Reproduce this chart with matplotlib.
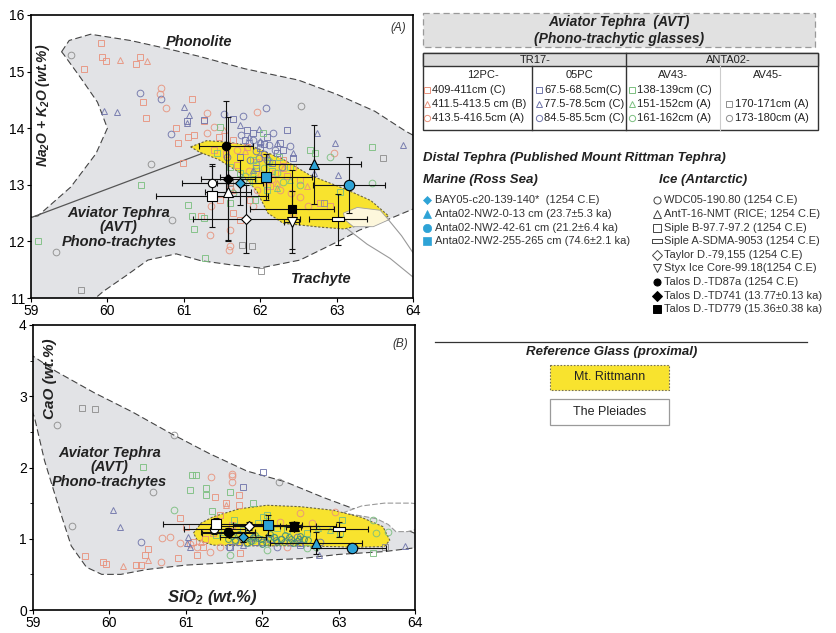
import numpy as np
import matplotlib
matplotlib.use("Agg")
import matplotlib.pyplot as plt
from matplotlib.patches import Polygon, Rectangle
from matplotlib.path import Path

plt.rcParams['font.family'] = ['Liberation Sans', 'DejaVu Sans']
plt.rcParams['mathtext.default'] = 'regular'

# ---------------- colours ----------------
C_12PC = '#e8937d'
C_05PC = '#6f74aa'
C_AV43 = '#7cbf80'
C_AV45 = '#8e8e8e'
C_AV43_DARK = '#3f8f78'
C_MARINE = '#2ea3d6'
FIELD_GREY = '#e2e3e6'
RITT_YELLOW = '#f8e32e'
PLEIADES = '#fdf7dc'

# ---------------- fields (panel A: SiO2 vs Na2O+K2O) ----------------
avt_a_x = [59.40, 59.50, 59.78, 60.30, 60.80, 61.20, 61.80, 62.50, 63.00, 63.50, 63.90, 64.05,
           64.05, 63.66, 63.30, 63.05, 62.52, 62.00, 61.65, 61.22, 60.90, 60.53, 60.25, 59.95,
           59.80, 58.95, 58.95, 59.09, 59.52, 59.85, 60.00, 59.87, 59.65, 59.43]
avt_a_y = [15.35, 15.55, 15.66, 15.55, 15.40, 15.27, 15.05, 14.85, 14.60, 14.30, 13.95, 13.84,
           12.60, 12.38, 12.20, 12.02, 11.67, 11.53, 11.58, 11.66, 11.78, 11.67, 11.40, 11.12,
           10.95, 10.95, 12.43, 12.45, 12.96, 13.55, 14.00, 14.46, 14.89, 15.30]
ritt_a_x = [61.09, 61.30, 61.60, 61.90, 62.30, 62.65, 63.14, 63.45, 63.68, 63.60, 63.10, 62.80,
            62.30, 62.10, 61.95, 61.75, 61.45, 61.20]
ritt_a_y = [13.67, 13.78, 13.75, 13.68, 13.45, 13.17, 12.91, 12.72, 12.45, 12.38, 12.22, 12.25,
            12.32, 12.50, 12.90, 13.20, 13.45, 13.58]
plei_a_x = [63.09, 63.27, 63.57, 63.68, 63.48, 63.22, 63.11]
plei_a_y = [12.50, 12.60, 12.55, 12.38, 12.26, 12.26, 12.38]
plei_line1_x = [63.14, 63.40, 63.70, 64.00]
plei_line1_y = [12.22, 11.95, 11.70, 11.37]
plei_line2_x = [63.68, 63.85, 64.00]
plei_line2_y = [12.38, 12.10, 11.80]
boundary_x = [59.00, 61.45]
boundary_y = [12.42, 13.66]

# ---------------- fields (panel B: SiO2 vs CaO) ----------------
avt_b_x = [58.95, 59.30, 59.80, 60.30, 60.80, 61.30, 61.80, 62.30, 62.80, 63.30, 63.70, 64.05,
           64.05, 63.60, 63.00, 62.50, 62.00, 61.50, 61.00, 60.50, 60.15, 59.90, 59.70, 59.50,
           59.35, 59.15, 59.02, 58.95]
avt_b_y = [3.60, 3.35, 3.05, 2.78, 2.48, 2.20, 1.95, 1.80, 1.58, 1.38, 1.22, 1.05,
           0.88, 0.82, 0.78, 0.72, 0.70, 0.66, 0.63, 0.57, 0.50, 0.50, 0.60, 0.90,
           1.40, 2.10, 2.70, 2.90]
ritt_b_x = [61.10, 61.20, 61.36, 61.70, 62.06, 62.50, 62.93, 63.30, 63.58, 63.67, 63.60, 63.20,
            62.93, 62.40, 61.90, 61.36, 61.15]
ritt_b_y = [1.08, 1.22, 1.31, 1.42, 1.47, 1.45, 1.40, 1.30, 1.17, 0.98, 0.89, 0.88,
            0.89, 0.90, 0.90, 0.91, 0.98]
plei_b_x = [63.05, 63.30, 63.60, 63.95, 64.10, 64.10, 63.90, 63.75, 63.65, 63.50, 63.30]
plei_b_y = [1.36, 1.46, 1.50, 1.50, 1.48, 1.15, 1.10, 1.10, 1.20, 1.28, 1.32]

# ---------------- AVT glass analyses, panel A ----------------
a_12pc_sq_x = [59.92, 59.93, 59.98, 59.69, 60.37, 60.43, 60.47, 60.51, 61.11, 60.90, 60.92, 60.99,
               61.06, 61.13, 61.26, 61.46, 61.65, 61.74, 61.22, 61.48, 61.87, 62.13, 62.52, 62.78,
               62.91, 62.43, 62.30, 61.65, 61.83, 61.55, 61.95, 62.20, 61.40, 61.70, 62.35, 61.60]
a_12pc_sq_y = [15.51, 15.26, 15.18, 15.04, 15.14, 15.26, 14.47, 14.18, 14.51, 14.00, 13.74, 13.39,
               13.84, 13.88, 14.12, 13.85, 12.50, 12.38, 12.44, 12.74, 12.74, 12.97, 13.09, 12.68,
               12.62, 13.32, 13.44, 13.79, 13.67, 13.55, 13.40, 13.20, 13.62, 13.35, 13.15, 12.95]
a_12pc_tri_x = [60.17, 60.52, 61.52, 62.61, 62.22, 62.00, 61.65, 61.80, 62.30]
a_12pc_tri_y = [15.21, 15.18, 13.97, 12.97, 13.03, 13.21, 12.91, 13.60, 13.30]
a_12pc_cir_x = [60.70, 60.69, 60.77, 61.30, 61.35, 61.34, 61.60, 61.61, 61.59, 61.96, 62.09, 62.26,
                62.52, 62.43, 62.96, 62.63, 61.91, 61.96, 61.39, 61.30, 61.70, 62.05, 61.85, 62.15,
                62.40]
a_12pc_cir_y = [14.71, 14.61, 14.35, 14.26, 12.62, 12.12, 12.21, 11.91, 11.85, 14.29, 12.97, 12.91,
                12.79, 12.50, 13.56, 12.62, 12.62, 12.91, 14.03, 13.91, 13.62, 13.50, 13.25, 13.10,
                12.85]
a_05pc_sq_x = [61.04, 61.26, 61.64, 61.83, 61.91, 62.35, 62.26, 62.22, 62.43, 62.09, 61.74, 62.00,
               61.95, 62.15, 61.80, 62.05, 62.30]
a_05pc_sq_y = [14.12, 14.15, 14.16, 13.97, 13.91, 13.97, 13.74, 13.56, 13.47, 13.85, 13.50, 13.65,
               13.30, 13.38, 13.80, 13.72, 13.62]
a_05pc_tri_x = [59.96, 60.13, 61.00, 61.07, 61.04, 61.74, 61.98, 62.74, 62.98, 63.02, 63.87, 62.43,
                62.22, 62.70, 61.91, 62.10, 61.85, 62.00]
a_05pc_tri_y = [14.31, 14.29, 14.38, 14.24, 14.09, 14.06, 13.98, 13.91, 13.74, 13.18, 13.71, 13.56,
                13.74, 13.21, 13.26, 13.50, 13.85, 13.78]
a_05pc_cir_x = [60.43, 60.70, 60.83, 61.52, 61.77, 62.07, 62.17, 62.00, 61.85, 62.39, 61.57, 62.09,
                62.28, 61.87, 61.95, 62.20, 61.75, 61.90, 62.05, 62.12, 61.98]
a_05pc_cir_y = [14.62, 14.51, 13.90, 14.25, 14.22, 14.35, 13.91, 13.74, 13.74, 13.68, 13.50, 13.44,
                13.32, 13.44, 13.60, 13.62, 13.88, 13.80, 13.55, 13.70, 13.48]
a_av43_sq_x = [61.48, 62.04, 62.65, 63.46, 60.44, 61.06, 61.11, 61.26, 61.14, 61.28, 59.09, 61.61,
               61.74, 61.93, 62.09, 61.91, 61.43, 61.61, 62.39, 62.72, 63.04, 61.85, 62.15, 62.25]
a_av43_sq_y = [14.03, 13.91, 13.62, 13.66, 13.00, 12.64, 12.44, 12.41, 12.22, 11.71, 12.00, 12.68,
               13.21, 12.74, 12.91, 13.44, 13.56, 13.32, 13.32, 13.56, 12.88, 13.05, 13.25, 13.50]
a_av43_cir_x = [63.46, 61.65, 62.22, 61.91, 62.52, 62.91, 62.05, 61.80, 62.30, 61.95, 62.12]
a_av43_cir_y = [13.03, 12.85, 13.21, 13.09, 13.00, 13.50, 13.30, 13.15, 13.05, 13.35, 13.42]
a_av43_tri_x = [62.22, 62.39, 62.10, 61.90]
a_av43_tri_y = [12.94, 13.09, 13.40, 13.20]
a_av45_sq_x = [59.65, 61.76, 61.89, 62.01, 63.61, 62.83, 61.61]
a_av45_sq_y = [11.15, 11.94, 11.91, 11.47, 13.48, 12.68, 13.03]
a_av45_cir_x = [59.52, 59.33, 60.85, 60.57, 62.54]
a_av45_cir_y = [15.29, 11.82, 12.38, 13.37, 14.39]

# ---------------- AVT glass analyses, panel B ----------------
b_12pc_sq_x = [59.68, 59.92, 59.96, 60.35, 60.42, 60.47, 60.50, 60.90, 60.92, 61.00, 61.10, 61.15,
               61.23, 61.38, 61.45, 61.53, 61.69, 61.69, 61.36, 61.71, 61.25, 61.60]
b_12pc_sq_y = [0.76, 0.68, 0.65, 0.63, 0.63, 0.77, 0.85, 0.73, 1.29, 1.17, 0.96, 0.77,
               0.89, 1.59, 1.33, 1.50, 1.47, 1.61, 1.08, 0.80, 1.00, 1.20]
b_12pc_tri_x = [60.18, 60.51, 61.53, 61.20]
b_12pc_tri_y = [0.62, 0.70, 1.47, 0.95]
b_12pc_cir_x = [61.33, 61.60, 61.61, 61.60, 61.32, 60.92, 60.69, 60.79, 60.68, 62.49, 62.95, 62.23,
                62.65, 62.32, 61.45, 61.15, 61.05]
b_12pc_cir_y = [1.86, 1.91, 1.88, 1.80, 0.82, 0.94, 1.01, 1.03, 0.68, 1.36, 1.37, 1.24,
                1.22, 0.89, 0.89, 0.88, 0.92]
b_05pc_sq_x = [62.01, 61.75, 61.58, 62.49, 62.10, 61.90]
b_05pc_sq_y = [1.94, 1.73, 0.89, 0.91, 1.00, 0.95]
b_05pc_tri_x = [60.05, 60.14, 61.03, 61.06, 61.75, 62.74, 63.87, 62.49, 61.01, 61.70]
b_05pc_tri_y = [1.40, 1.16, 1.03, 0.89, 0.91, 0.77, 0.90, 0.94, 0.94, 0.96]
b_05pc_cir_x = [60.42, 61.56, 62.19, 62.36, 61.88, 62.76, 62.00, 62.25, 62.45, 61.65]
b_05pc_cir_y = [0.96, 0.89, 0.89, 0.96, 1.01, 0.96, 0.95, 1.00, 1.02, 0.97]
b_av43_sq_x = [60.44, 61.08, 61.14, 61.06, 61.26, 61.27, 61.34, 61.58, 61.88, 62.01, 62.06, 63.04,
               63.45, 63.02, 61.63, 61.75, 62.32, 62.58, 61.50, 61.95, 61.40, 62.20]
b_av43_sq_y = [2.01, 1.90, 1.90, 1.68, 1.71, 1.61, 1.39, 1.66, 1.50, 1.31, 1.33, 1.26,
               0.80, 1.08, 1.26, 1.12, 1.12, 1.08, 1.10, 1.22, 1.05, 1.15]
b_av43_cir_x = [60.84, 61.58, 62.06, 62.58, 63.45, 63.65, 63.49, 62.71, 61.88, 62.15]
b_av43_cir_y = [1.41, 0.77, 0.84, 0.87, 1.26, 1.10, 1.08, 0.89, 0.98, 1.03]
b_av43_tri_x = [62.89, 62.73]
b_av43_tri_y = [1.12, 1.15]
b_av43_dense_x = [61.55, 61.65, 61.75, 61.85, 61.95, 62.05, 62.15, 62.25, 62.35, 62.45, 62.55, 61.70,
                  61.90, 62.10, 62.30, 62.50, 61.80, 62.00, 62.20, 62.40, 61.60, 62.60, 61.78,
                  61.98, 62.18, 62.38, 61.88, 62.08, 62.28, 62.48]
b_av43_dense_y = [1.00, 0.98, 1.03, 0.97, 1.01, 0.96, 1.02, 0.99, 1.03, 0.97, 1.00, 1.06,
                  1.05, 1.06, 1.05, 1.04, 0.94, 0.93, 0.95, 0.94, 1.04, 0.98, 0.99,
                  0.99, 0.98, 1.00, 1.02, 1.01, 0.96, 1.00]
b_av45_sq_x = [59.64, 59.81, 63.61]
b_av45_sq_y = [2.83, 2.82, 0.89]
b_av45_cir_x = [59.31, 60.84, 62.22, 60.57, 59.51]
b_av45_cir_y = [2.60, 2.46, 1.79, 1.65, 1.18]

# ---------------- published distal tephra (mean +/- 1 sd) ----------------
distal_names = ['BAY05', 'NW2-0-13', 'NW2-42-61', 'NW2-255-265', 'WDC', 'AntT', 'SipleB',
                'SipleA', 'Taylor', 'Styx', 'TD87a', 'TD741', 'TD779']
distal_sio2_a = [61.74, 62.70, 63.16, 62.08, 61.37, 61.58, 61.37, 63.02, 61.82, 62.41, 61.55, 61.58, 62.41]
distal_alk_a = [13.04, 13.36, 13.00, 13.14, 13.04, 12.88, 12.81, 12.39, 12.40, 12.34, 13.68, 13.10, 12.57]
distal_sio2_err_a = [0.30, 0.62, 0.47, 0.60, 0.40, 0.30, 0.73, 0.38, 0.70, 0.10, 0.35, 0.35, 0.55]
distal_alk_err_a = [0.40, 0.70, 0.50, 0.40, 0.30, 0.85, 0.55, 0.45, 0.60, 0.55, 0.80, 1.10, 0.70]
distal_sio2_b = [61.75, 62.70, 63.17, 62.07, 61.37, 62.41, 61.40, 63.01, 61.83, 62.41, 61.55, 61.56, 62.41]
distal_cao_b = [1.02, 0.94, 0.87, 1.19, 1.13, 1.18, 1.21, 1.13, 1.18, 1.17, 1.10, 1.08, 1.18]
distal_sio2_err_b = [0.30, 0.60, 0.45, 0.45, 0.40, 0.30, 0.70, 0.38, 0.40, 0.10, 0.35, 0.35, 0.55]
distal_cao_err_b = [0.06, 0.15, 0.05, 0.14, 0.06, 0.06, 0.08, 0.10, 0.06, 0.06, 0.05, 0.05, 0.06]

# marker, face colour for every distal sample
siple_a_marker = Path([(-1, -0.35), (1, -0.35), (1, 0.35), (-1, 0.35), (-1, -0.35)])
distal_style = {
    'BAY05': ('D', C_MARINE, 5.5), 'NW2-0-13': ('^', C_MARINE, 7), 'NW2-42-61': ('o', C_MARINE, 7.5),
    'NW2-255-265': ('s', C_MARINE, 7), 'WDC': ('o', 'white', 6), 'AntT': ('^', 'white', 6.5),
    'SipleB': ('s', 'white', 6.5), 'SipleA': (siple_a_marker, 'white', 9), 'Taylor': ('D', 'white', 5.5),
    'Styx': ('v', 'white', 7), 'TD87a': ('o', 'black', 6), 'TD741': ('D', 'black', 5.5),
    'TD779': ('s', 'black', 6),
}

fig = plt.figure(figsize=(8.36, 6.33), dpi=100)

# legend canvas in pixel coordinates
leg = fig.add_axes([0, 0, 1, 1])
leg.set_xlim(0, 836)
leg.set_ylim(633, 0)
leg.axis('off')

ax_a = fig.add_axes([31 / 836, 1 - 298 / 633, 382 / 836, 283 / 633])
ax_b = fig.add_axes([33 / 836, 1 - 610 / 633, 382 / 836, 285 / 633])


def hollow(ax, xs, ys, marker, color, ms=4.8, lw=0.7, alpha=0.9):
    ax.plot(xs, ys, linestyle='none', marker=marker, ms=ms, mfc='none', mec=color,
            mew=lw, alpha=alpha, zorder=4)


# ---------------- panel A ----------------
ax_a.add_patch(Polygon(np.column_stack([avt_a_x, avt_a_y]), closed=True, fc=FIELD_GREY,
                       ec='#444444', lw=0.8, ls=(0, (6, 3)), zorder=1))
ax_a.plot(boundary_x, boundary_y, color='#555555', lw=0.9, zorder=2)
ax_a.add_patch(Polygon(np.column_stack([ritt_a_x, ritt_a_y]), closed=True, fc=RITT_YELLOW,
                       ec='#6b6440', lw=0.8, ls=(0, (2, 1.5)), zorder=2))
ax_a.add_patch(Polygon(np.column_stack([plei_a_x, plei_a_y]), closed=True, fc=PLEIADES,
                       ec='#a0a0a0', lw=0.6, zorder=2.5))
ax_a.plot(plei_line1_x, plei_line1_y, color='#999999', lw=0.8, zorder=2.5)
ax_a.plot(plei_line2_x, plei_line2_y, color='#999999', lw=0.8, zorder=2.5)

hollow(ax_a, a_12pc_sq_x, a_12pc_sq_y, 's', C_12PC)
hollow(ax_a, a_12pc_tri_x, a_12pc_tri_y, '^', C_12PC)
hollow(ax_a, a_12pc_cir_x, a_12pc_cir_y, 'o', C_12PC)
hollow(ax_a, a_05pc_sq_x, a_05pc_sq_y, 's', C_05PC)
hollow(ax_a, a_05pc_tri_x, a_05pc_tri_y, '^', C_05PC)
hollow(ax_a, a_05pc_cir_x, a_05pc_cir_y, 'o', C_05PC)
hollow(ax_a, a_av43_sq_x, a_av43_sq_y, 's', C_AV43)
hollow(ax_a, a_av43_cir_x, a_av43_cir_y, 'o', C_AV43)
hollow(ax_a, a_av43_tri_x, a_av43_tri_y, '^', C_AV43)
hollow(ax_a, a_av45_sq_x, a_av45_sq_y, 's', C_AV45)
hollow(ax_a, a_av45_cir_x, a_av45_cir_y, 'o', C_AV45)

# ---------------- panel B ----------------
ax_b.add_patch(Polygon(np.column_stack([avt_b_x, avt_b_y]), closed=True, fc=FIELD_GREY,
                       ec='#444444', lw=0.8, ls=(0, (6, 3)), zorder=1))
ax_b.add_patch(Polygon(np.column_stack([plei_b_x, plei_b_y]), closed=True, fc='white',
                       ec='#999999', lw=0.8, ls=(0, (5, 2)), zorder=1.5))
ax_b.add_patch(Polygon(np.column_stack([ritt_b_x, ritt_b_y]), closed=True, fc=RITT_YELLOW,
                       ec='#6b6440', lw=0.8, ls=(0, (2, 1.5)), zorder=2))

hollow(ax_b, b_12pc_sq_x, b_12pc_sq_y, 's', C_12PC)
hollow(ax_b, b_12pc_tri_x, b_12pc_tri_y, '^', C_12PC)
hollow(ax_b, b_12pc_cir_x, b_12pc_cir_y, 'o', C_12PC)
hollow(ax_b, b_05pc_sq_x, b_05pc_sq_y, 's', C_05PC)
hollow(ax_b, b_05pc_tri_x, b_05pc_tri_y, '^', C_05PC)
hollow(ax_b, b_05pc_cir_x, b_05pc_cir_y, 'o', C_05PC)
hollow(ax_b, b_av43_sq_x, b_av43_sq_y, 's', C_AV43)
hollow(ax_b, b_av43_cir_x, b_av43_cir_y, 'o', C_AV43)
hollow(ax_b, b_av43_tri_x, b_av43_tri_y, '^', C_AV43)
hollow(ax_b, b_av43_dense_x, b_av43_dense_y, 'o', C_AV43_DARK, ms=4.2)
hollow(ax_b, b_av45_sq_x, b_av45_sq_y, 's', C_AV45)
hollow(ax_b, b_av45_cir_x, b_av45_cir_y, 'o', C_AV45)

# distal tephra with error bars
for ax, xs, ys, xe, ye in [(ax_a, distal_sio2_a, distal_alk_a, distal_sio2_err_a, distal_alk_err_a),
                           (ax_b, distal_sio2_b, distal_cao_b, distal_sio2_err_b, distal_cao_err_b)]:
    for name, x, y, dx, dy in zip(distal_names, xs, ys, xe, ye):
        ax.errorbar(x, y, xerr=dx, yerr=dy, fmt='none', ecolor='#111111', elinewidth=0.8,
                    capsize=2, capthick=0.8, zorder=6)
    for name, x, y in zip(distal_names, xs, ys):
        mk, fc, ms = distal_style[name]
        ax.plot(x, y, marker=mk, ms=ms, mfc=fc, mec='black', mew=0.8, linestyle='none', zorder=7)

for ax in (ax_a, ax_b):
    ax.set_xlim(59, 64)
    ax.set_xticks([59, 60, 61, 62, 63, 64])
    for s in ax.spines.values():
        s.set_linewidth(1.2)
    ax.tick_params(labelsize=10, direction='out', length=3, width=0.8, pad=1.5)

ax_a.set_ylim(11, 16)
ax_a.set_yticks([11, 12, 13, 14, 15, 16])
ax_b.set_ylim(0, 4)
ax_b.set_yticks([0, 1, 2, 3, 4])
ax_b.set_yticks([0.5, 1.5, 2.5, 3.5], minor=True)
ax_b.tick_params(which='minor', length=2, width=0.6)

bi = dict(fontweight='bold', fontstyle='italic', color='#222222')
ax_a.text(0.982, 0.975, '(A)', transform=ax_a.transAxes, ha='right', va='top', fontsize=8.5,
          fontstyle='italic', color='#333333')
ax_a.text(0.44, 0.905, 'Phonolite', transform=ax_a.transAxes, ha='center', va='center', fontsize=10.5, **bi)
ax_a.text(0.76, 0.068, 'Trachyte', transform=ax_a.transAxes, ha='center', va='center', fontsize=10.5, **bi)
ax_a.text(0.23, 0.25, 'Aviator Tephra\n(AVT)\nPhono-trachytes', transform=ax_a.transAxes,
          ha='center', va='center', fontsize=10.5, linespacing=1.05, **bi)
ax_a.text(0.031, 0.68, 'Na$_2$O + K$_2$O (wt.%)', transform=ax_a.transAxes, rotation=90,
          ha='center', va='center', fontsize=10, **bi)

ax_b.text(0.982, 0.955, '(B)', transform=ax_b.transAxes, ha='right', va='top', fontsize=8.5,
          fontstyle='italic', color='#333333')
ax_b.text(0.20, 0.50, 'Aviator Tephra\n(AVT)\nPhono-trachytes', transform=ax_b.transAxes,
          ha='center', va='center', fontsize=10.5, linespacing=1.05, **bi)
ax_b.text(0.045, 0.81, 'CaO (wt.%)', transform=ax_b.transAxes, rotation=90,
          ha='center', va='center', fontsize=11, **bi)
ax_b.text(0.47, 0.045, 'SiO$_2$ (wt.%)', transform=ax_b.transAxes,
          ha='center', va='center', fontsize=12, **bi)

# ---------------- legend: AVT table ----------------
leg.add_patch(Rectangle((423, 13), 392, 34, fc='#e1e1e1', ec='#999999', lw=0.9, ls=(0, (5, 3))))
leg.text(619, 22, 'Aviator Tephra  (AVT)', ha='center', va='center', fontsize=10, **bi)
leg.text(619, 39, '(Phono-trachytic glasses)', ha='center', va='center', fontsize=10, **bi)

leg.add_patch(Rectangle((423, 53), 395, 77, fc='none', ec='#333333', lw=1.0))
leg.add_patch(Rectangle((423, 53), 395, 13, fc='#dcdcdc', ec='#333333', lw=1.0))
leg.plot([626, 626], [53, 130], color='#333333', lw=1.0)
leg.plot([532, 532], [66, 130], color='#333333', lw=1.0)
leg.plot([720, 720], [66, 130], color='#cccccc', lw=0.8)

tbl = dict(fontsize=8, color='#222222', va='center')
leg.text(535, 60, 'TR17-', ha='center', **tbl)
leg.text(728, 60, 'ANTA02-', ha='center', **tbl)
sub_headers = ['12PC-', '05PC', 'AV43-', 'AV45-']
sub_header_x = [483, 580, 673, 768]
for t, x in zip(sub_headers, sub_header_x):
    leg.text(x, 75, t, ha='center', **tbl)

row_y = [90, 104, 118]
row_marks = ['s', '^', 'o']
col_specs = [
    (427, C_12PC, ['409-411cm (C)', '411.5-413.5 cm (B)', '413.5-416.5cm (A)']),
    (539, C_05PC, ['67.5-68.5cm(C)', '77.5-78.5cm (C)', '84.5-85.5cm (C)']),
    (632, C_AV43, ['138-139cm (C)', '151-152cm (A)', '161-162cm (A)']),
]
for mx, col, texts in col_specs:
    for y, m, t in zip(row_y, row_marks, texts):
        leg.plot(mx, y, marker=m, ms=4.5, mfc='none', mec=col, mew=0.7)
        leg.text(mx + 5, y, t, ha='left', **tbl)
for y, m, t in zip(row_y[1:], ['s', 'o'], ['170-171cm (A)', '173-180cm (A)']):
    leg.plot(729, y, marker=m, ms=4.5, mfc='none', mec=C_AV45, mew=0.7)
    leg.text(735, y, t, ha='left', **tbl)

# ---------------- legend: distal tephra ----------------
leg.text(423, 158, 'Distal Tephra (Published Mount Rittman Tephra)', ha='left', va='center',
         fontsize=9.5, **bi)
leg.text(423, 180, 'Marine (Ross Sea)', ha='left', va='center', fontsize=9.5, **bi)
leg.text(659, 180, 'Ice (Antarctic)', ha='left', va='center', fontsize=9.5, **bi)

marine_labels = ['BAY05-c20-139-140*  (1254 C.E)', 'Anta02-NW2-0-13 cm (23.7\u00b15.3 ka)',
                 'Anta02-NW2-42-61 cm (21.2\u00b16.4 ka)', 'Anta02-NW2-255-265 cm (74.6\u00b12.1 ka)']
marine_keys = ['BAY05', 'NW2-0-13', 'NW2-42-61', 'NW2-255-265']
ice_labels = ['WDC05-190.80 (1254 C.E)', 'AntT-16-NMT (RICE; 1254 C.E)', 'Siple B-97.7-97.2 (1254 C.E)',
              'Siple A-SDMA-9053 (1254 C.E)', 'Taylor D.-79,155 (1254 C.E)',
              'Styx Ice Core-99.18(1254 C.E)', 'Talos D.-TD87a (1254 C.E)',
              'Talos D.-TD741 (13.77\u00b10.13 ka)', 'Talos D.-TD779 (15.36\u00b10.38 ka)']
ice_keys = ['WDC', 'AntT', 'SipleB', 'SipleA', 'Taylor', 'Styx', 'TD87a', 'TD741', 'TD779']
entry_y = [200, 214, 228, 241, 255, 268, 282, 296, 309]

for y, key, t in zip(entry_y, marine_keys, marine_labels):
    mk, fc, ms = distal_style[key]
    leg.plot(427, y, marker=mk, ms=ms * 0.8, mfc=fc, mec=C_MARINE, mew=0.5)
    leg.text(435, y, t, ha='left', va='center', fontsize=8, color='#333333')
for y, key, t in zip(entry_y, ice_keys, ice_labels):
    mk, fc, ms = distal_style[key]
    ec = '#444444' if fc == 'white' else 'black'
    leg.plot(657, y, marker=mk, ms=ms * 0.85, mfc=fc, mec=ec, mew=0.7)
    leg.text(664, y, t, ha='left', va='center', fontsize=8, color='#333333')

# ---------------- legend: reference glass ----------------
leg.plot([435, 807], [342, 342], color='#333333', lw=0.9)
leg.text(612, 352, 'Reference Glass (proximal)', ha='center', va='center', fontsize=9.5, **bi)
leg.add_patch(Rectangle((550, 365), 119, 25, fc=RITT_YELLOW, ec='#777055', lw=0.8, ls=(0, (1.5, 1.5))))
leg.text(609.5, 377.5, 'Mt. Rittmann', ha='center', va='center', fontsize=9, color='#222222')
leg.add_patch(Rectangle((550, 399), 119, 26, fc='white', ec='#9a9a9a', lw=0.9))
leg.text(609.5, 412, 'The Pleiades', ha='center', va='center', fontsize=9, color='#222222')

fig.savefig('out.png', dpi=100)
